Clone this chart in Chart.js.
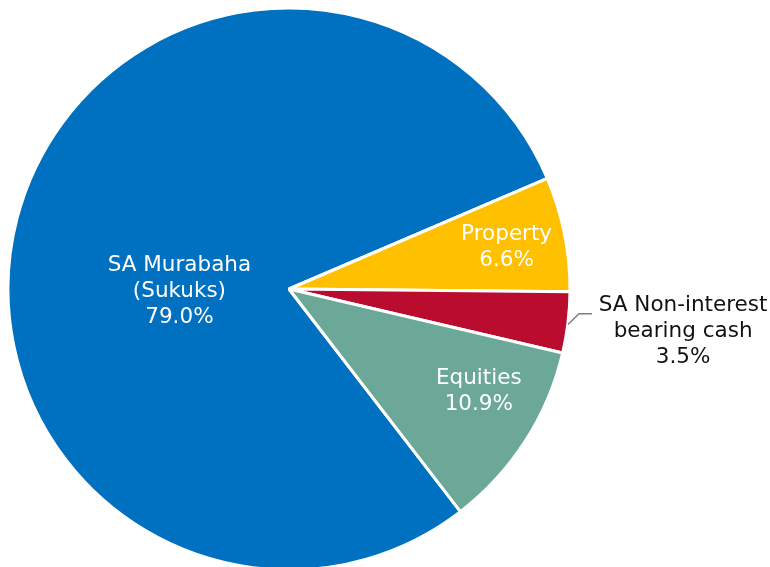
<!DOCTYPE html>
<html>
<head>
<meta charset="utf-8">
<script src="https://cdn.jsdelivr.net/npm/chart.js@4"></script>
<style>
  html, body { margin: 0; padding: 0; background: #fff; overflow: hidden; }
  #wrap { width: 770px; height: 580px; position: relative; }
</style>
</head>
<body>
<div id="wrap"><canvas id="pie"></canvas></div>
<script>
// chart data
const categories = [['SA Murabaha', '(Sukuks)'], ['Property'], ['SA Non-interest', 'bearing cash'], ['Equities']];
const shares = [79.0, 6.6, 3.5, 10.9];
const colours = ['#0070C0', '#FFC000', '#BA0C2F', '#6BA898'];

// where each label sits: angle (deg, clockwise from 3 o'clock) and distance as share of radius
const labelSpots = [
  { angle: 180, frac: 0.39, color: '#fff' },
  { angle: -11.4, frac: 0.79, color: '#fff' },
  { angle: 5.9, frac: 1.41, color: '#111' },
  { angle: 28, frac: 0.765, color: '#fff' }
];

// draws the text labels (and the one leader line) on top of the slices
const sliceLabels = {
  id: 'sliceLabels',
  afterDatasetsDraw(chart) {
    const c = chart.ctx;
    const arcs = chart.getDatasetMeta(0).data;
    c.save();
    c.font = '21.5px "DejaVu Sans", Verdana, sans-serif';
    c.textAlign = 'center';
    c.textBaseline = 'middle';
    arcs.forEach((arc, i) => {
      const spot = labelSpots[i];
      const r = arc.outerRadius;
      const a = spot.angle * Math.PI / 180;
      const x = arc.x + Math.cos(a) * r * spot.frac;
      const y = arc.y + Math.sin(a) * r * spot.frac + 2;
      const lines = categories[i].concat([shares[i].toFixed(1) + '%']);
      const lh = 26;
      const top = y - (lines.length - 1) * lh / 2;
      if (i === 2) {
        // leader line from the small slice out to its label
        const mid = (arc.startAngle + arc.endAngle) / 2;
        const sx = arc.x + Math.cos(mid) * r;
        const sy = arc.y + Math.sin(mid) * r;
        c.strokeStyle = '#7f7f7f';
        c.lineWidth = 1.5;
        c.beginPath();
        c.moveTo(sx, sy + 2);
        c.lineTo(sx + 11, top + 8);
        c.lineTo(sx + 24, top + 8);
        c.stroke();
      }
      c.fillStyle = spot.color;
      lines.forEach((t, k) => c.fillText(t, x, top + k * lh));
    });
    c.restore();
  }
};

const ctx = document.getElementById('pie').getContext('2d');
new Chart(ctx, {
  type: 'pie',
  data: {
    labels: categories,
    datasets: [{
      data: shares,
      backgroundColor: colours,
      borderColor: '#fff',
      borderWidth: 3
    }]
  },
  options: {
    responsive: true,
    maintainAspectRatio: false,
    devicePixelRatio: 1,
    animation: false,
    rotation: 142.4,
    layout: { padding: { left: 6.5, top: 6.5, right: 198.5, bottom: 8.5 } },
    plugins: {
      legend: { display: false },
      tooltip: { enabled: false }
    }
  },
  plugins: [sliceLabels]
});
</script>
</body>
</html>
